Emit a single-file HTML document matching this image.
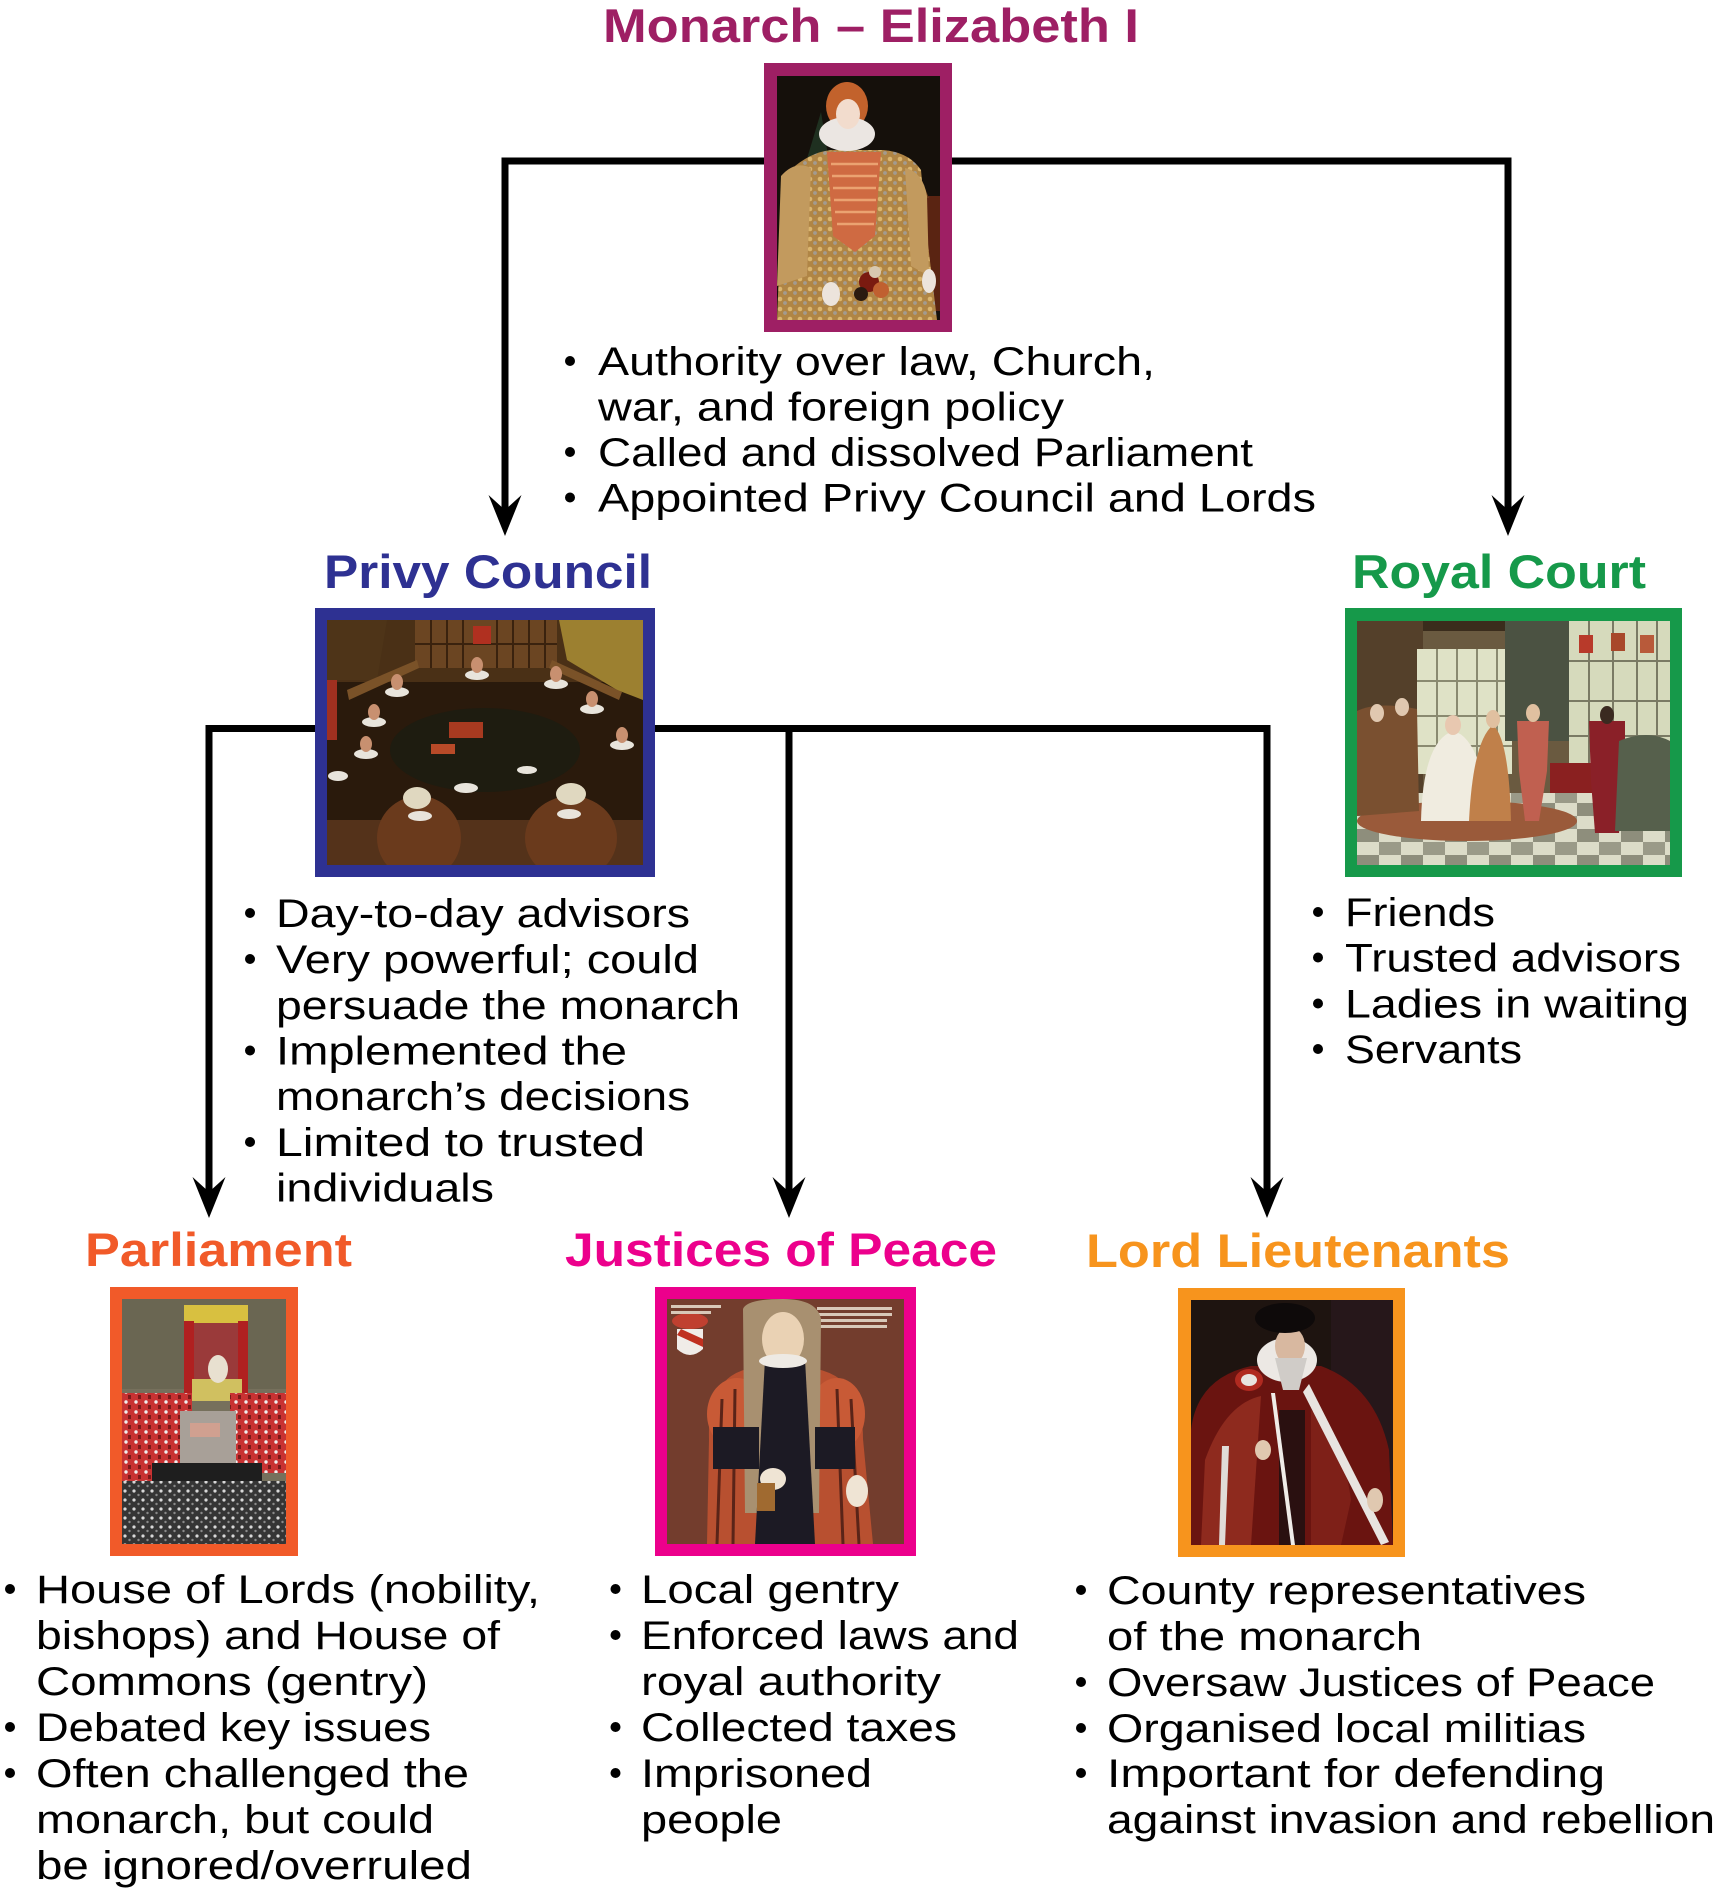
<!DOCTYPE html>
<html><head><meta charset="utf-8"><style>
html,body{margin:0;padding:0;background:#fff;}
svg{display:block;}
text{font-family:"Liberation Sans",Arial,sans-serif;}
.t{font-weight:bold;font-size:47px;}
.b{font-size:40px;fill:#000;}
</style></head><body>
<svg width="1719" height="1890" viewBox="0 0 1719 1890" xmlns="http://www.w3.org/2000/svg">
<defs>
<pattern id="dm" width="10" height="10" patternUnits="userSpaceOnUse"><rect width="10" height="10" fill="#b08545"/><circle cx="3" cy="3" r="2.3" fill="#dab56f"/><circle cx="8" cy="7" r="1.9" fill="#a39a8e"/></pattern>
<pattern id="crowd" width="9" height="9" patternUnits="userSpaceOnUse"><rect width="9" height="9" fill="#353535"/><circle cx="3" cy="3" r="1.6" fill="#d8d8d8"/><circle cx="7.5" cy="7" r="1.2" fill="#8a8a8a"/></pattern>
<pattern id="reds" width="10" height="10" patternUnits="userSpaceOnUse"><rect width="10" height="10" fill="#c83232"/><circle cx="4" cy="3" r="1.7" fill="#eee"/><rect x="6" y="6" width="3" height="4" fill="#7a1a1a"/></pattern>
<pattern id="tiles" width="44" height="26" patternUnits="userSpaceOnUse"><rect width="44" height="26" fill="#dcdcc8"/><rect width="22" height="13" fill="#8e8e7c"/><rect x="22" y="13" width="22" height="13" fill="#9a9a88"/></pattern>
</defs>

<!-- connectors -->
<g fill="none" stroke="#000" stroke-width="7" stroke-linejoin="miter" stroke-linecap="butt">
<path d="M505,512 V161 H1508 V512"/>
<path d="M209,1196 V728.5 H1267 V1196"/>
<path d="M789,728.5 V1196"/>
</g>
<g fill="#000">
<polygon points="505,536 488.5,495 505,510 521.5,495"/>
<polygon points="1508,536 1491.5,495 1508,510 1524.5,495"/>
<polygon points="209,1218 192.5,1177 209,1192 225.5,1177"/>
<polygon points="789,1218 772.5,1177 789,1192 805.5,1177"/>
<polygon points="1267,1218 1250.5,1177 1267,1192 1283.5,1177"/>
</g>

<!-- titles -->
<text class="t" x="603" y="42" fill="#9e1f64" textLength="536" lengthAdjust="spacingAndGlyphs">Monarch – Elizabeth I</text>
<text class="t" x="324" y="588" fill="#2e3192" textLength="328" lengthAdjust="spacingAndGlyphs">Privy Council</text>
<text class="t" x="1352" y="588" fill="#16994a" textLength="294" lengthAdjust="spacingAndGlyphs">Royal Court</text>
<text class="t" x="85" y="1266" fill="#f15a29" textLength="267" lengthAdjust="spacingAndGlyphs">Parliament</text>
<text class="t" x="565" y="1266" fill="#ec008c" textLength="432" lengthAdjust="spacingAndGlyphs">Justices of Peace</text>
<text class="t" x="1086" y="1267" fill="#f7941d" textLength="424" lengthAdjust="spacingAndGlyphs">Lord Lieutenants</text>

<!-- Monarch frame -->
<rect x="764" y="63" width="188" height="269" fill="#9e1f64"/>
<svg x="777" y="76" width="163" height="244" viewBox="0 0 163 244">
<rect width="163" height="244" fill="#15100b"/>
<rect x="128" y="120" width="35" height="115" fill="#5a2412"/>
<path d="M140,122 l6,-14 l6,14 z" fill="#6a3a1a"/>
<path d="M44,36 L26,96 L52,86 Z" fill="#1f3020"/>
<path d="M18,90 Q38,74 58,74 L106,74 Q132,76 144,94 L150,160 L160,244 L0,244 L3,170 Z" fill="url(#dm)"/>
<path d="M4,100 Q18,84 34,92 L30,200 L0,210 Z" fill="#c29a5e"/>
<path d="M128,92 Q146,96 150,120 L152,200 L134,190 Z" fill="#c29a5e"/>
<path d="M50,76 L104,76 L98,160 L78,176 L56,160 Z" fill="#cf6a42"/>
<g stroke="#eba271" stroke-width="2.5">
<line x1="54" y1="88" x2="101" y2="88"/><line x1="55" y1="100" x2="100" y2="100"/><line x1="56" y1="112" x2="99" y2="112"/><line x1="57" y1="124" x2="99" y2="124"/><line x1="58" y1="136" x2="98" y2="136"/><line x1="60" y1="148" x2="97" y2="148"/>
</g>
<ellipse cx="70" cy="30" rx="21" ry="24" fill="#c2622c"/>
<ellipse cx="70" cy="58" rx="28" ry="17" fill="#ebe6e2"/>
<ellipse cx="71" cy="38" rx="12" ry="15" fill="#f2dccd"/>
<ellipse cx="54" cy="218" rx="9" ry="12" fill="#ece4dc"/>
<ellipse cx="152" cy="205" rx="7" ry="12" fill="#ece4dc"/>
<circle cx="92" cy="206" r="10" fill="#7a1a10"/>
<circle cx="104" cy="214" r="8" fill="#c06030"/>
<circle cx="84" cy="218" r="7" fill="#2a1a10"/>
<circle cx="98" cy="196" r="6" fill="#d8c8b0"/>
</svg>

<!-- Privy frame -->
<rect x="315" y="608" width="340" height="269" fill="#2e3192"/>
<svg x="327" y="620" width="316" height="245" viewBox="0 0 316 245">
<rect width="316" height="245" fill="#2a1a0c"/>
<rect x="0" y="0" width="316" height="62" fill="#4a3016"/>
<rect x="88" y="0" width="142" height="48" fill="#6b4522"/>
<g stroke="#3a220e" stroke-width="2"><line x1="104" y1="0" x2="104" y2="48"/><line x1="120" y1="0" x2="120" y2="48"/><line x1="136" y1="0" x2="136" y2="48"/><line x1="170" y1="0" x2="170" y2="48"/><line x1="186" y1="0" x2="186" y2="48"/><line x1="202" y1="0" x2="202" y2="48"/><line x1="218" y1="0" x2="218" y2="48"/><line x1="88" y1="24" x2="230" y2="24"/></g>
<rect x="146" y="6" width="18" height="18" fill="#b03020"/>
<path d="M232,0 H316 V80 L290,70 L240,40 Z" fill="#9c8030"/>
<path d="M0,0 H60 L50,60 H0Z" fill="#4e3418"/>
<path d="M20,70 L90,40 L92,48 L22,80 Z" fill="#7a5228"/>
<path d="M225,40 L295,72 L292,80 L222,48 Z" fill="#7a5228"/>
<ellipse cx="158" cy="130" rx="95" ry="42" fill="#1e1c10"/>
<rect x="122" y="102" width="34" height="16" fill="#a83a20"/>
<rect x="104" y="124" width="24" height="10" fill="#b84a28"/>
<rect y="200" width="316" height="45" fill="#54321a"/>
<ellipse cx="92" cy="218" rx="42" ry="42" fill="#6a3a1c"/>
<ellipse cx="244" cy="218" rx="46" ry="42" fill="#6a3a1c"/>
<ellipse cx="90" cy="178" rx="14" ry="11" fill="#e0d8c0"/>
<ellipse cx="244" cy="174" rx="15" ry="11" fill="#e0d8c0"/>
<g fill="#e8e4dc">
<ellipse cx="150" cy="55" rx="12" ry="5"/><ellipse cx="229" cy="64" rx="12" ry="5"/><ellipse cx="70" cy="72" rx="12" ry="5"/><ellipse cx="47" cy="102" rx="12" ry="5"/><ellipse cx="265" cy="89" rx="12" ry="5"/><ellipse cx="39" cy="134" rx="12" ry="5"/><ellipse cx="295" cy="125" rx="12" ry="5"/><ellipse cx="139" cy="168" rx="12" ry="5"/><ellipse cx="242" cy="194" rx="12" ry="5"/><ellipse cx="93" cy="196" rx="12" ry="5"/><ellipse cx="11" cy="156" rx="10" ry="5"/><ellipse cx="200" cy="150" rx="10" ry="4"/>
</g>
<g fill="#c89070">
<ellipse cx="150" cy="45" rx="6" ry="8"/><ellipse cx="229" cy="54" rx="6" ry="8"/><ellipse cx="70" cy="62" rx="6" ry="8"/><ellipse cx="47" cy="92" rx="6" ry="8"/><ellipse cx="265" cy="79" rx="6" ry="8"/><ellipse cx="39" cy="124" rx="6" ry="8"/><ellipse cx="295" cy="115" rx="6" ry="8"/>
</g>
<rect x="0" y="60" width="10" height="60" fill="#a03020"/>
</svg>

<!-- Royal frame -->
<rect x="1345" y="608" width="337" height="269" fill="#16994a"/>
<svg x="1357" y="621" width="313" height="244" viewBox="0 0 313 244">
<rect width="313" height="244" fill="#6a5a40"/>
<rect x="0" y="0" width="313" height="10" fill="#3a2c1c"/>
<rect x="0" y="0" width="66" height="200" fill="#54402a"/>
<rect x="60" y="28" width="95" height="125" fill="#dfe2c6"/>
<g stroke="#8a8a70" stroke-width="2"><line x1="80" y1="28" x2="80" y2="153"/><line x1="100" y1="28" x2="100" y2="153"/><line x1="120" y1="28" x2="120" y2="153"/><line x1="140" y1="28" x2="140" y2="153"/><line x1="60" y1="60" x2="155" y2="60"/><line x1="60" y1="95" x2="155" y2="95"/><line x1="60" y1="125" x2="155" y2="125"/></g>
<rect x="148" y="0" width="64" height="120" fill="#4b5242"/>
<rect x="212" y="0" width="101" height="150" fill="#d6dabc"/>
<g stroke="#7a7a64" stroke-width="2"><line x1="232" y1="0" x2="232" y2="150"/><line x1="256" y1="0" x2="256" y2="150"/><line x1="280" y1="0" x2="280" y2="150"/><line x1="300" y1="0" x2="300" y2="150"/><line x1="212" y1="40" x2="313" y2="40"/><line x1="212" y1="80" x2="313" y2="80"/><line x1="212" y1="115" x2="313" y2="115"/></g>
<rect x="222" y="14" width="14" height="18" fill="#b83a2a"/><rect x="254" y="12" width="14" height="18" fill="#a8482a"/><rect x="283" y="14" width="14" height="18" fill="#b85a3a"/>
<rect y="172" width="313" height="72" fill="url(#tiles)"/>
<ellipse cx="110" cy="200" rx="110" ry="20" fill="#9a5a3a"/>
<rect x="193" y="142" width="90" height="30" fill="#8a2020"/>
<path d="M0,90 Q20,80 60,88 L62,190 L0,195 Z" fill="#7a5030"/>
<ellipse cx="20" cy="92" rx="7" ry="9" fill="#e0c8b0"/><ellipse cx="45" cy="86" rx="7" ry="9" fill="#e0c8b0"/>
<path d="M64,200 Q66,120 96,110 Q124,116 134,200 Z" fill="#f0ece0"/>
<ellipse cx="96" cy="104" rx="8" ry="10" fill="#e8c8b0"/>
<path d="M112,200 Q116,120 136,104 Q152,118 154,200 Z" fill="#c0804a"/>
<ellipse cx="136" cy="98" rx="7" ry="9" fill="#e0c0a0"/>
<path d="M160,100 L192,100 L190,150 L182,200 L168,200 L162,150 Z" fill="#c06050"/>
<ellipse cx="176" cy="92" rx="7" ry="9" fill="#e0c0a0"/>
<path d="M232,100 L268,100 L268,160 L262,212 L238,212 L234,160 Z" fill="#8a2028"/>
<ellipse cx="250" cy="94" rx="7" ry="9" fill="#3a2a20"/>
<path d="M262,120 Q290,108 313,120 L313,210 L258,210 Z" fill="#56604c"/>
</svg>

<!-- Parliament frame -->
<rect x="110" y="1287" width="188" height="269" fill="#f15a29"/>
<svg x="122" y="1299" width="164" height="245" viewBox="0 0 164 245">
<rect width="164" height="245" fill="#76705c"/>
<rect x="0" y="0" width="164" height="90" fill="#6a6652"/>
<rect x="62" y="6" width="64" height="18" fill="#d8c040"/>
<rect x="62" y="22" width="10" height="80" fill="#b02020"/><rect x="116" y="22" width="10" height="80" fill="#b02020"/>
<rect x="72" y="24" width="44" height="56" fill="#9a3a3a"/>
<rect x="70" y="80" width="50" height="22" fill="#d0c060"/>
<ellipse cx="96" cy="70" rx="10" ry="14" fill="#e8e0d0"/>
<rect x="0" y="94" width="70" height="88" fill="url(#reds)"/>
<rect x="108" y="94" width="56" height="80" fill="url(#reds)"/>
<rect x="58" y="112" width="56" height="54" fill="#a8a098"/>
<rect x="68" y="124" width="30" height="14" fill="#d0a090"/>
<rect x="30" y="164" width="110" height="26" fill="#1e1e1e"/>
<rect x="0" y="182" width="164" height="63" fill="url(#crowd)"/>
</svg>

<!-- Justices frame -->
<rect x="655" y="1287" width="261" height="269" fill="#ec008c"/>
<svg x="667" y="1299" width="237" height="245" viewBox="0 0 237 245">
<rect width="237" height="245" fill="#733d2d"/>
<path d="M10,30 L36,30 L36,50 Q23,62 10,50 Z" fill="#f0ece8"/>
<path d="M10,36 L36,48 L36,40 L14,30 Z" fill="#c03020"/>
<ellipse cx="23" cy="22" rx="18" ry="8" fill="#c04030"/>
<rect x="4" y="6" width="50" height="3" fill="#d8c8b8"/><rect x="4" y="12" width="40" height="3" fill="#d8c8b8"/>
<rect x="150" y="8" width="75" height="3" fill="#d8c8b8"/><rect x="150" y="14" width="75" height="3" fill="#d8c8b8"/><rect x="150" y="20" width="70" height="3" fill="#d8c8b8"/><rect x="150" y="26" width="70" height="3" fill="#d8c8b8"/>
<path d="M40,245 L42,140 Q40,80 80,70 L150,70 Q196,80 196,140 L206,245 Z" fill="#b85030"/>
<ellipse cx="70" cy="115" rx="30" ry="36" fill="#c85a36"/>
<ellipse cx="170" cy="115" rx="28" ry="36" fill="#c85a36"/>
<g stroke="#5a2418" stroke-width="3"><line x1="55" y1="100" x2="50" y2="245"/><line x1="68" y1="90" x2="66" y2="245"/><line x1="170" y1="90" x2="176" y2="245"/><line x1="184" y1="100" x2="192" y2="245"/></g>
<path d="M76,10 Q80,0 116,0 Q150,0 154,20 L152,214 L136,214 L138,60 L98,60 L96,214 L78,214 Z" fill="#a89070"/>
<path d="M98,60 L138,60 L148,245 L88,245 Z" fill="#1c1a24"/>
<rect x="46" y="128" width="46" height="42" fill="#1c1a24"/>
<rect x="148" y="128" width="40" height="42" fill="#1c1a24"/>
<ellipse cx="116" cy="40" rx="21" ry="27" fill="#ead2b4"/>
<ellipse cx="116" cy="62" rx="24" ry="7" fill="#eeeae4"/>
<ellipse cx="106" cy="180" rx="13" ry="11" fill="#efe4d4"/>
<ellipse cx="190" cy="192" rx="11" ry="16" fill="#efe4d4"/>
<rect x="90" y="184" width="18" height="28" fill="#a06a30"/>
</svg>

<!-- Lord frame -->
<rect x="1178" y="1288" width="227" height="269" fill="#f7941d"/>
<svg x="1191" y="1300" width="202" height="245" viewBox="0 0 202 245">
<rect width="202" height="245" fill="#1e1410"/>
<rect x="140" y="0" width="62" height="245" fill="#26171a"/>
<path d="M0,130 Q6,78 60,66 L130,66 Q184,86 198,150 L202,245 L0,245 Z" fill="#6a1410"/>
<path d="M14,160 Q34,104 70,96 L60,245 L10,245 Z" fill="#8e2a1e"/>
<path d="M120,110 Q150,130 160,200 L150,245 L120,245 Z" fill="#7e2018"/>
<rect x="88" y="110" width="26" height="135" fill="#2a1010"/>
<path d="M118,84 L198,242 L190,245 L112,92 Z" fill="#e8e4e0"/>
<path d="M31,146 L28,245 L34,245 L38,146 Z" fill="#e0dcd8"/>
<path d="M80,93 L100,245 L104,245 L84,93 Z" fill="#f0ece8"/>
<ellipse cx="96" cy="60" rx="30" ry="22" fill="#ece8e4"/>
<ellipse cx="99" cy="46" rx="15" ry="19" fill="#d8b8a0"/>
<path d="M84,58 L116,58 L108,90 L92,90 Z" fill="#d0ccc8"/>
<ellipse cx="94" cy="18" rx="30" ry="15" fill="#0e0a0a"/>
<ellipse cx="58" cy="80" rx="14" ry="11" fill="#b02a20"/>
<ellipse cx="58" cy="80" rx="8" ry="6" fill="#e8e4e0"/>
<ellipse cx="72" cy="150" rx="8" ry="10" fill="#e0c8b0"/>
<ellipse cx="184" cy="200" rx="8" ry="12" fill="#e0c8b0"/>
</svg>

<!-- bullets -->
<g fill="#000">
<circle cx="570" cy="361" r="5"/><circle cx="570" cy="452" r="5"/><circle cx="570" cy="497.5" r="5"/>
<circle cx="250" cy="913" r="5"/><circle cx="250" cy="959" r="5"/><circle cx="250" cy="1050.5" r="5"/><circle cx="250" cy="1142" r="5"/>
<circle cx="1318" cy="912" r="5"/><circle cx="1318" cy="957.5" r="5"/><circle cx="1318" cy="1003.5" r="5"/><circle cx="1318" cy="1049" r="5"/>
<circle cx="10" cy="1589" r="5"/><circle cx="10" cy="1727" r="5"/><circle cx="10" cy="1773" r="5"/>
<circle cx="615.5" cy="1589" r="5"/><circle cx="615.5" cy="1635" r="5"/><circle cx="615.5" cy="1727" r="5"/><circle cx="615.5" cy="1773" r="5"/>
<circle cx="1081" cy="1590" r="5"/><circle cx="1081" cy="1682" r="5"/><circle cx="1081" cy="1728" r="5"/><circle cx="1081" cy="1773" r="5"/>
</g>

<g class="b">
<text class="b" x="598" y="375" textLength="557" lengthAdjust="spacingAndGlyphs">Authority over law, Church,</text>
<text class="b" x="598" y="420.5" textLength="466" lengthAdjust="spacingAndGlyphs">war, and foreign policy</text>
<text class="b" x="598" y="466" textLength="655" lengthAdjust="spacingAndGlyphs">Called and dissolved Parliament</text>
<text class="b" x="598" y="511.5" textLength="718" lengthAdjust="spacingAndGlyphs">Appointed Privy Council and Lords</text>

<text class="b" x="276" y="927" textLength="414" lengthAdjust="spacingAndGlyphs">Day-to-day advisors</text>
<text class="b" x="276" y="973" textLength="423" lengthAdjust="spacingAndGlyphs">Very powerful; could</text>
<text class="b" x="276" y="1019" textLength="464" lengthAdjust="spacingAndGlyphs">persuade the monarch</text>
<text class="b" x="276" y="1064.5" textLength="351" lengthAdjust="spacingAndGlyphs">Implemented the</text>
<text class="b" x="276" y="1110" textLength="414" lengthAdjust="spacingAndGlyphs">monarch’s decisions</text>
<text class="b" x="276" y="1156" textLength="369" lengthAdjust="spacingAndGlyphs">Limited to trusted</text>
<text class="b" x="276" y="1201.5" textLength="218" lengthAdjust="spacingAndGlyphs">individuals</text>

<text class="b" x="1345" y="926" textLength="150" lengthAdjust="spacingAndGlyphs">Friends</text>
<text class="b" x="1345" y="971.5" textLength="336" lengthAdjust="spacingAndGlyphs">Trusted advisors</text>
<text class="b" x="1345" y="1017.5" textLength="344" lengthAdjust="spacingAndGlyphs">Ladies in waiting</text>
<text class="b" x="1345" y="1063" textLength="177" lengthAdjust="spacingAndGlyphs">Servants</text>

<text class="b" x="36" y="1603" textLength="504" lengthAdjust="spacingAndGlyphs">House of Lords (nobility,</text>
<text class="b" x="36" y="1649" textLength="464" lengthAdjust="spacingAndGlyphs">bishops) and House of</text>
<text class="b" x="36" y="1695" textLength="392" lengthAdjust="spacingAndGlyphs">Commons (gentry)</text>
<text class="b" x="36" y="1741" textLength="395" lengthAdjust="spacingAndGlyphs">Debated key issues</text>
<text class="b" x="36" y="1787" textLength="433" lengthAdjust="spacingAndGlyphs">Often challenged the</text>
<text class="b" x="36" y="1833" textLength="398" lengthAdjust="spacingAndGlyphs">monarch, but could</text>
<text class="b" x="36" y="1879" textLength="436" lengthAdjust="spacingAndGlyphs">be ignored/overruled</text>

<text class="b" x="641" y="1603" textLength="258" lengthAdjust="spacingAndGlyphs">Local gentry</text>
<text class="b" x="641" y="1649" textLength="378" lengthAdjust="spacingAndGlyphs">Enforced laws and</text>
<text class="b" x="641" y="1695" textLength="300" lengthAdjust="spacingAndGlyphs">royal authority</text>
<text class="b" x="641" y="1741" textLength="316" lengthAdjust="spacingAndGlyphs">Collected taxes</text>
<text class="b" x="641" y="1787" textLength="231" lengthAdjust="spacingAndGlyphs">Imprisoned</text>
<text class="b" x="641" y="1833" textLength="141" lengthAdjust="spacingAndGlyphs">people</text>

<text class="b" x="1107" y="1604" textLength="479" lengthAdjust="spacingAndGlyphs">County representatives</text>
<text class="b" x="1107" y="1650" textLength="315" lengthAdjust="spacingAndGlyphs">of the monarch</text>
<text class="b" x="1107" y="1696" textLength="548" lengthAdjust="spacingAndGlyphs">Oversaw Justices of Peace</text>
<text class="b" x="1107" y="1742" textLength="479" lengthAdjust="spacingAndGlyphs">Organised local militias</text>
<text class="b" x="1107" y="1787" textLength="498" lengthAdjust="spacingAndGlyphs">Important for defending</text>
<text class="b" x="1107" y="1833" textLength="608" lengthAdjust="spacingAndGlyphs">against invasion and rebellion</text>
</g>
</svg>
</body></html>
